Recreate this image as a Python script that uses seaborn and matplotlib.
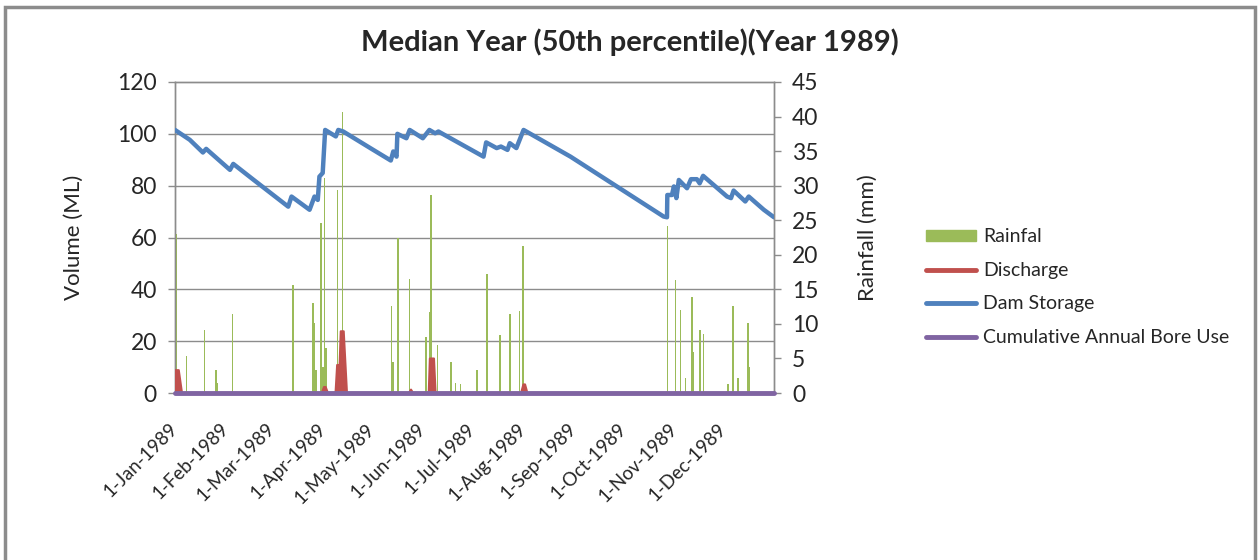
import pandas as pd
import numpy as np
import matplotlib
matplotlib.use('Agg')
import matplotlib.pyplot as plt
import seaborn as sns
from matplotlib.patches import Patch, Rectangle
from matplotlib.lines import Line2D
from matplotlib.transforms import ScaledTranslation

# Данные (день года от 1-Jan-1989)
storage_day = [0, 9, 17, 19, 33.5, 35.5, 48, 69, 71, 82, 85, 87, 88, 90, 91.5, 98, 99.5, 102.5,
               119, 131.5, 133, 135, 135.5, 141, 143, 151, 155, 158.5, 160.5, 188, 189.6, 196,
               198.6, 202.6, 204, 208, 212.4, 241, 297.7, 299.8, 300, 302.8, 304, 305.5, 307,
               312, 314.4, 318, 319.7, 321.8, 336.4, 338.8, 340.4, 347.5, 349.6, 358.8, 365]
storage_ml = [101.5, 97.7, 92.8, 94.2, 86.1, 88.4, 82.2, 71.9, 75.8, 70.7, 75.8, 74.5, 83.5, 84.9,
              101.5, 99.0, 101.5, 100.9, 94.5, 89.7, 93.2, 91.2, 100.0, 98.3, 101.5, 98.3, 101.5,
              100.2, 100.9, 91.2, 96.7, 94.5, 95.1, 93.8, 96.4, 94.5, 101.5, 91.2, 68.1, 67.8,
              76.4, 76.4, 79.7, 75.2, 82.2, 79.0, 82.5, 82.5, 80.9, 83.8, 75.8, 75.2, 78.1, 73.9,
              75.8, 70.7, 67.8]

rain_day = [0, 1, 7, 18, 25, 26, 35, 72, 84, 85, 86, 89, 90, 91, 92, 99, 102,
            132, 133, 136, 143, 153, 155, 156, 160, 168, 171, 174, 184, 190, 198, 204, 210, 212,
            300, 305, 308, 311, 315, 316, 320, 322, 337, 340, 343, 349, 350]
rain_mm = [21.9, 23.0, 5.3, 9.1, 3.4, 1.4, 11.4, 15.6, 13.0, 10.1, 3.4, 24.6, 3.8, 31.1, 6.5,
           29.4, 40.7, 12.6, 4.5, 22.5, 16.5, 8.1, 11.7, 28.6, 6.9, 4.5, 1.4, 1.3, 3.4, 17.2,
           8.4, 11.4, 11.9, 21.2, 24.1, 16.4, 12.0, 2.1, 13.9, 6.0, 9.1, 8.6, 1.3, 12.6, 2.1,
           10.1, 3.7]

discharge_day = [0, 2, 4, 89, 90.5, 91.5, 93, 97.5, 98.5, 100, 100.7, 102.5, 104.5,
                 142, 143.5, 145, 154.3, 155, 157.5, 158.5, 210.5, 212, 213, 214.5, 365]
discharge_ml = [9, 9, 0, 0, 2.5, 2.5, 0, 0, 11, 11, 24, 24, 0,
                0, 1.5, 0, 0, 13.5, 13.5, 0, 0, 3.5, 3.5, 0, 0]

bore_day = [0, 365]
bore_ml = [0, 0]

month_labels = ['1-Jan-1989', '1-Feb-1989', '1-Mar-1989', '1-Apr-1989', '1-May-1989',
                '1-Jun-1989', '1-Jul-1989', '1-Aug-1989', '1-Sep-1989', '1-Oct-1989',
                '1-Nov-1989', '1-Dec-1989', '']

base = pd.Timestamp('1989-01-01')
to_dates = lambda d: base + pd.to_timedelta(d, unit='D')

sns.set_style('white')
plt.rcParams['font.family'] = ['Lato', 'DejaVu Sans']

green = '#9BBB59'
red = '#C0504D'
blue = '#4F81BD'
purple = '#8064A2'
grid_c = '#8C8C8C'

fig = plt.figure(figsize=(12.58, 5.60), dpi=100)
fig.patches.append(Rectangle((5 / 1258, -0.05), 1250 / 1258, 1 - 7 / 560 + 0.05,
                             transform=fig.transFigure, fill=False, edgecolor='#8C8C8C',
                             lw=2.5, zorder=0))
ax = fig.add_axes([175 / 1258, 1 - 393 / 560, 599 / 1258, 311 / 560])
ax2 = ax.twinx()
ax.set_zorder(2)
ax2.set_zorder(1)
ax.patch.set_visible(False)
ax2.set_facecolor('#ECEAE0')

# Осадки (правая ось)
ax2.bar(to_dates(rain_day), rain_mm, width=1.0, color=green, linewidth=0, zorder=3)
ax2.set_ylim(0, 45)
ax2.set_yticks(range(0, 46, 5))
for v in range(20, 120, 20):
    ax2.axhline(v * 45 / 120, color=grid_c, lw=1, zorder=1)

# Сброс, запас, скважина (левая ось)
ax.fill_between(to_dates(discharge_day), discharge_ml, 0, color=red, lw=1.5, edgecolor=red, zorder=3)
sns.lineplot(x=to_dates(storage_day), y=storage_ml, ax=ax, color=blue, lw=3.2, sort=False, zorder=4)
sns.lineplot(x=to_dates(bore_day), y=bore_ml, ax=ax, color=purple, lw=3.5, sort=False, zorder=5,
             clip_on=False)
ax.set_ylim(0, 120)
ax.set_yticks(range(0, 121, 20))
ax.set_xlim(base, to_dates(365))

ticks = pd.date_range('1989-01-01', '1990-01-01', freq='MS')
ax.set_xticks(ticks)
ax.set_xticklabels(month_labels, rotation=45, ha='right', va='center', rotation_mode='anchor',
                   fontsize=13.5)
for lbl in ax.get_xticklabels():
    lbl.set_transform(lbl.get_transform() + ScaledTranslation(6 / 100, 0, fig.dpi_scale_trans))

for a in (ax, ax2):
    for s in a.spines.values():
        s.set_color('#8C8C8C')
        s.set_linewidth(1)
    a.tick_params(length=5, width=1, color='#8C8C8C', direction='out')
ax.tick_params(axis='x', pad=19)
ax.tick_params(axis='y', labelsize=16.5, pad=8)
ax2.tick_params(axis='y', labelsize=16.5, pad=8)
ax.set_xlabel('')
ax.set_ylabel('Volume (ML)', fontsize=16, labelpad=24)
ax2.set_ylabel('Rainfall (mm)', fontsize=16, labelpad=28)

fig.suptitle('Median Year (50th percentile)(Year 1989)', x=630 / 1258, y=1 - 42 / 560,
             va='center', fontsize=21, fontweight='bold')

handles = [Patch(color=green), Line2D([], [], color=red, lw=3.5),
           Line2D([], [], color=blue, lw=3.5), Line2D([], [], color=purple, lw=3.5)]
labels = ['Rainfal', 'Discharge', 'Dam Storage', 'Cumulative Annual Bore Use']
fig.legend(handles, labels, loc='center left', bbox_to_anchor=(908 / 1258, 1 - 287 / 560),
           frameon=False, fontsize=14, handlelength=2.6, handleheight=0.45, labelspacing=0.85,
           handletextpad=0.35)

fig.savefig('out.png', dpi=100)
